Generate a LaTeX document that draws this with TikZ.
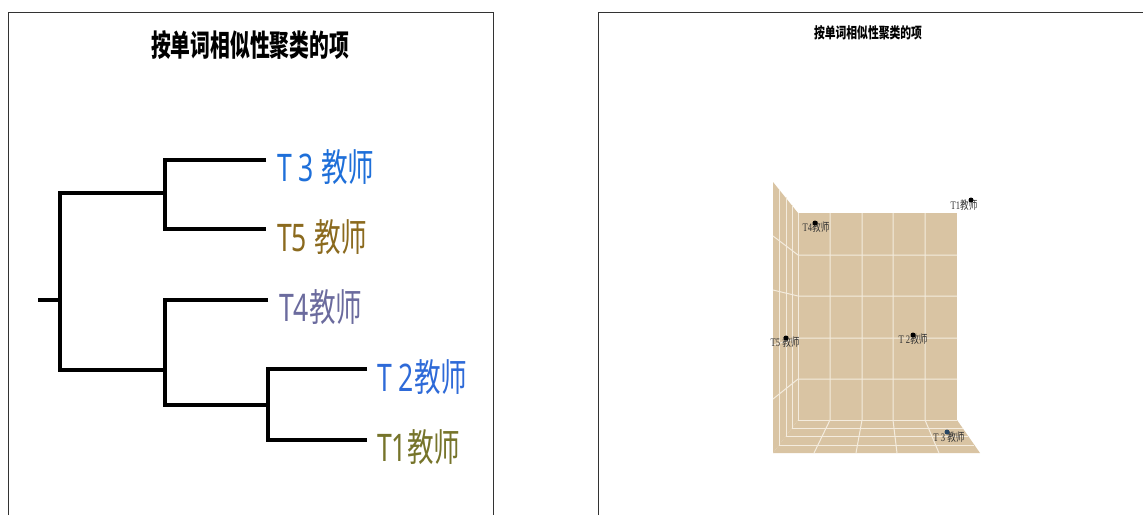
\documentclass[tikz,border=0pt]{standalone}
\usepackage{fontspec}
\usepackage{graphicx}
\newfontfamily\cjk{Noto Sans CJK SC}
\newfontfamily\latsans{Noto Sans}
\newfontfamily\latserif{Liberation Serif}
\newcommand\squeezetext[2]{\scalebox{#1}[1]{#2}}
\definecolor{tan}{HTML}{D9C4A3}
\definecolor{gridc}{HTML}{F4ECDE}
\definecolor{cT3}{HTML}{1E6FD9}
\definecolor{cT5}{HTML}{8B6A1E}
\definecolor{cT4}{HTML}{6B6B9E}
\definecolor{cT2}{HTML}{2E6AD8}
\definecolor{cT1}{HTML}{76742A}
\definecolor{frame}{HTML}{333333}
\begin{document}
\begin{tikzpicture}[x=1pt,y=-1pt,
  branch/.style={line width=3.2pt, black},
  leaf/.style={anchor=west, inner sep=0pt, font=\cjk\fontsize{38}{38}\selectfont},
  bigtitle/.style={inner sep=0pt, font=\cjk\bfseries\fontsize{30}{30}\selectfont},
  smalltitle/.style={inner sep=0pt, font=\cjk\bfseries\fontsize{15}{15}\selectfont},
  ptlabel/.style={inner sep=0pt, font=\fontsize{11.5}{11.5}\selectfont, text=black!80},
  ptdot/.style={circle, fill=black, inner sep=0pt, minimum size=5pt},
  wall/.style={fill=tan, draw=none},
  gridl/.style={draw=gridc, line width=1pt},
  panel/.style={draw=frame, line width=1pt}]
\useasboundingbox (0,0) rectangle (1143,515);
\fill[white] (0,0) rectangle (1143,515);
% frames
\draw[panel] (8,515) -- (8,12) -- (493,12) -- (493,515);
\draw[panel] (598,515) -- (598,12) -- (1143,12);

% ---------- left panel: dendrogram ----------
\node[bigtitle] (t1) at (250,45) {\squeezetext{0.66}{按单词相似性聚类的项}};

\coordinate (r0) at (38,300);
\coordinate (n1) at (60,300);
\coordinate (n2) at (165,193);
\coordinate (n3) at (165,370);
\coordinate (n4) at (268,405);
\coordinate (e3) at (266,160);
\coordinate (e5) at (266,229);
\coordinate (e4) at (268,300);
\coordinate (e2) at (367,369);
\coordinate (e1) at (367,440);

\draw[branch] (r0) -- (n1);
\draw[branch] (n2) -| (n1) |- (n3);
\draw[branch] (e3) -| (n2) |- (e5);
\draw[branch] (e4) -| (n3) |- (n4);
\draw[branch] (e2) -| (n4) |- (e1);

\node[leaf, text=cT3] (l3) at (277,167) {\squeezetext{0.7}{{\latsans T 3 }教师}};
\node[leaf, text=cT5] (l5) at (277,237) {\squeezetext{0.7}{{\latsans T5 }教师}};
\node[leaf, text=cT4] (l4) at (279,307) {\squeezetext{0.7}{{\latsans T4}教师}};
\node[leaf, text=cT2] (l2) at (377,377) {\squeezetext{0.7}{{\latsans T 2}教师}};
\node[leaf, text=cT1] (l1) at (377,447) {\squeezetext{0.7}{{\latsans T1}教师}};

% ---------- right panel: 3D scatter ----------
\node[smalltitle] (t2) at (868,33) {\squeezetext{0.72}{按单词相似性聚类的项}};

% walls
\fill[wall] (773,182) -- (798,213) -- (798,420) -- (773,453) -- cycle;
\fill[wall] (798,213) rectangle (957,420);
\fill[wall] (798,420) -- (957,420) -- (980,453) -- (773,453) -- cycle;

% back wall grid + floor continuation
\foreach \bx/\fx in {830/814, 862/856, 893/897, 925/939}
  \draw[gridl] (\bx,213) -- (\bx,420) -- (\fx,453);
% horizontal lines continuing onto left wall
\foreach \by/\fy in {255/236, 296/290, 338/345, 379/399}
  \draw[gridl] (957,\by) -- (798,\by) -- (773,\fy);
% depth lines (nested corners)
\foreach \lx/\ty/\dy/\rx in {798/213/420/957, 792/205/428/963, 786/197/436/968, 779/190/445/974}
  \draw[gridl] (\lx,\ty) -- (\lx,\dy) -- (\rx,\dy);

% points and labels
\node[ptlabel] (p1) at (964,205) {\squeezetext{0.75}{\latserif T1\cjk 教师}};
\node[ptlabel] (p4) at (816,227) {\squeezetext{0.75}{\latserif T4\cjk 教师}};
\node[ptlabel] (p5) at (785,342) {\squeezetext{0.75}{\latserif T5 \cjk 教师}};
\node[ptlabel] (p2) at (913,339) {\squeezetext{0.75}{\latserif T 2\cjk 教师}};
\node[ptlabel] (p3) at (949,437) {\squeezetext{0.75}{\latserif T 3 \cjk 教师}};
\node[ptdot] (d1) at (971,200) {};
\node[ptdot] (d4) at (815,223) {};
\node[ptdot] (d5) at (786,338) {};
\node[ptdot] (d2) at (913,335) {};
\node[ptdot, fill={rgb,255:red,40;green,70;blue,100}] (d3) at (947,432) {};
\end{tikzpicture}
\end{document}
